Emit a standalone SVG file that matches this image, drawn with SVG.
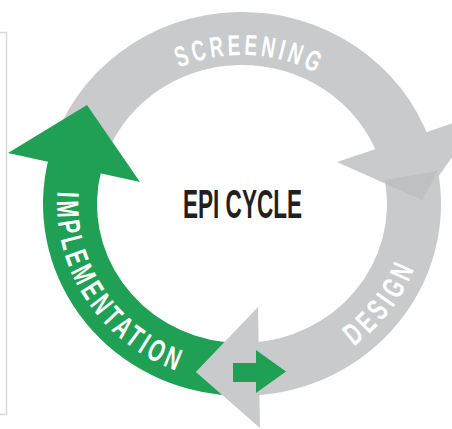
<svg xmlns="http://www.w3.org/2000/svg" width="452" height="429" viewBox="0 0 452 429">
<style>
.gray{fill:#c9cacc}
.shade{fill:#bfc0c3}
.green{fill:#20a055}
.lbl{font-family:'Liberation Sans',Arial,sans-serif;font-weight:700;fill:#ffffff}
.title{font-family:'Liberation Sans',Arial,sans-serif;font-weight:700;fill:#231f20}
.frame{fill:none;stroke:#d9d9d9;stroke-width:1.5}
</style>
<defs>
<path id="p-scr" d="M87,204 A155,149 0 0 1 397,204"/>
<path id="p-des" d="M305.3,371.8 A185,178.6 0 0 0 427,204"/>
<path id="p-imp" d="M68.2,142.9 A185,178.6 0 0 0 274.1,379.9"/>
</defs>
<rect width="452" height="429" fill="#ffffff"/>
<g id="frame"><path class="frame" d="M0,32.5 H6.5 V414.5 H0"/></g>

<g id="design">
<path class="gray" d="M438,170.7 A199,192 0 0 1 252.4,395.7 L249.6,342.8 A145,139 0 0 0 384.8,179.9 Z"/>
<polygon class="gray" points="196,372 258,307 260,428"/>
<text class="lbl" font-size="31" letter-spacing="6.7"><textPath href="#p-des" startOffset="55" textLength="103.5" lengthAdjust="spacingAndGlyphs">DESIGN</textPath></text>
</g>

<g id="screening">
<path class="gray" d="M50.7,151.1 A199,192 0 0 1 430.2,141.5 L379.1,158.7 A145,139 0 0 0 102.6,165.7 Z"/>
<polygon class="gray" points="337,162 483,113 422,200"/>
<polygon class="shade" points="384.8,179.9 438,170.7 422,200 386,184"/>
<text class="lbl" font-size="29" letter-spacing="5.6"><textPath href="#p-scr" startOffset="174" textLength="144.6" lengthAdjust="spacingAndGlyphs">SCREENING</textPath></text>
</g>

<g id="implementation">
<path class="green" d="M222.3,395 A199,192 0 0 1 48.9,157.6 L101.3,170.4 A145,139 0 0 0 224.6,342 L196,372 Z"/>
<polygon class="green" points="8,153 87,105 140,182"/>
<text class="lbl" font-size="31" letter-spacing="5.8"><textPath href="#p-imp" startOffset="50" textLength="234" lengthAdjust="spacingAndGlyphs">IMPLEMENTATION</textPath></text>
</g>

<g id="connectors">
<polygon class="green" points="233,363 256,363 256,350 286,371.5 256,393 256,382 233,382"/>
</g>

<g id="title">
<text class="title" x="183" y="218" font-size="40" textLength="119" lengthAdjust="spacingAndGlyphs">EPI CYCLE</text>
</g>
</svg>
